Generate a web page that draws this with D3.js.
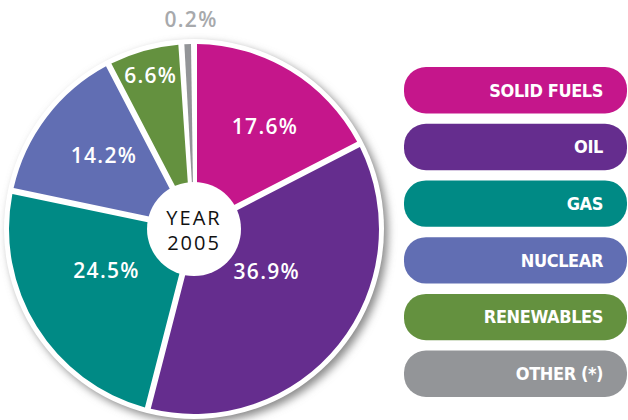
<!DOCTYPE html>
<html><head><meta charset="utf-8">
<script src="https://cdn.jsdelivr.net/npm/d3@7"></script>
<style>html,body{margin:0;padding:0;background:#fff;}</style>
</head><body>
<svg id="c" width="628" height="420"></svg>
<script>
const categories = ["SOLID FUELS", "OIL", "GAS", "NUCLEAR", "RENEWABLES", "OTHER (*)"];
const values = [17.6, 36.9, 24.5, 14.2, 6.6, 0.2];
const valueLabels = ["17.6%", "36.9%", "24.5%", "14.2%", "6.6%", "0.2%"];
const colors = ["#c5168b", "#652d8e", "#008a85", "#616eb3", "#64913f", "#939598"];
const centerLines = ["YEAR", "2005"];

// layout / style
const cx = 194, cy = 229, R = 185, r0 = 47, gap = 6;
const labelR = [125, 84, 97, 116, 160, 210];
const labelShift = [0.056, -0.15, 0.11, 0.033, 0, 0.02];
const minShare = 1.1; // visual floor so the tiny slice stays visible

const svg = d3.select("#c");
const defs = svg.append("defs");
const f = defs.append("filter").attr("id","sh").attr("x","-20%").attr("y","-20%").attr("width","140%").attr("height","140%");
f.append("feGaussianBlur").attr("stdDeviation", 4);

const g = svg.append("g").attr("transform", `translate(${cx},${cy})`);
g.append("circle").attr("cx", 4).attr("cy", 4).attr("r", R + 5).attr("fill", "#8a8a8a").attr("filter", "url(#sh)");
g.append("circle").attr("r", R + 5).attr("fill", "#fff");

const data = categories.map((c, i) => ({c, v: values[i], i}));
const pie = d3.pie().sort(null).value(d => Math.max(d.v, minShare)).startAngle(0).endAngle(2 * Math.PI);
const arcs = pie(data);
const arc = d3.arc().innerRadius(20).outerRadius(R).padRadius(R).padAngle(gap / R);

g.selectAll("path.s").data(arcs).join("path").attr("class", "s")
  .attr("d", arc).attr("fill", d => colors[d.data.i]);

g.append("circle").attr("r", r0).attr("fill", "#fff");

g.selectAll("text.pl").data(arcs).join("text").attr("class", "pl")
  .attr("transform", d => {
    const a = (d.startAngle + d.endAngle) / 2 + labelShift[d.data.i];
    const rr = labelR[d.data.i];
    return `translate(${Math.sin(a) * rr},${-Math.cos(a) * rr})`;
  })
  .attr("text-anchor", "middle").attr("dy", "0.36em")
  .attr("font-family", "'Open Sans', sans-serif").attr("font-weight", 600)
  .attr("font-size", 21).attr("letter-spacing", 1.3)
  .attr("fill", d => d.data.i === 5 ? "#a7a9ac" : "#fff")
  .text(d => valueLabels[d.data.i]);

g.selectAll("text.cl").data(centerLines).join("text").attr("class", "cl")
  .attr("x", 0).attr("y", (d, i) => -4 + i * 25)
  .attr("text-anchor", "middle")
  .attr("font-family", "'Open Sans', sans-serif").attr("font-size", 20).attr("letter-spacing", 2)
  .attr("fill", "#111").text(d => d);

// legend
const y = d3.scaleBand().domain(categories).range([67, 397]).paddingInner(10 / 55).paddingOuter(0);
const lg = svg.append("g");
lg.selectAll("rect").data(categories).join("rect")
  .attr("x", 404).attr("y", d => y(d)).attr("width", 223).attr("height", y.bandwidth())
  .attr("rx", 22).attr("fill", (d, i) => colors[i]);
lg.selectAll("text").data(categories).join("text")
  .attr("x", 603).attr("y", d => y(d) + y.bandwidth() / 2).attr("dy", "0.35em")
  .attr("text-anchor", "end").attr("fill", "#fff")
  .attr("font-family", "'Liberation Sans Narrow', 'DejaVu Sans Condensed', sans-serif")
  .attr("font-weight", 700).attr("font-size", 18).attr("letter-spacing", -0.4)
  .text(d => d);
</script>
</body></html>
